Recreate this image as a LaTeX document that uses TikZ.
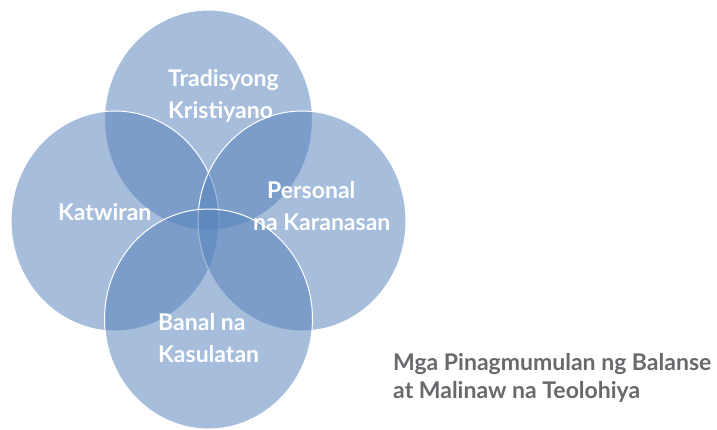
\documentclass[tikz,border=0pt]{standalone}
\usepackage{fontspec}
\setmainfont{Lato}
\usetikzlibrary{positioning}
\definecolor{discblue}{RGB}{87,130,187}
\definecolor{capgray}{RGB}{104,105,109}

\begin{document}
\begin{tikzpicture}[x=1pt, y=-1pt,
		disc/.style={fill=discblue, fill opacity=0.53, draw=white, draw opacity=1, line width=1pt},
		lbl/.style={anchor=base west, inner sep=0pt, align=left, text=white,
			font=\fontsize{23}{32}\selectfont\bfseries}]
		\useasboundingbox (0,0) rectangle (717,429);
		%% Circles
		\path [disc] (208.5,120) ellipse [x radius=104, y radius=110];
		\path [disc] (115,221) ellipse [x radius=104, y radius=110];
		\path [disc] (302,221) ellipse [x radius=104, y radius=110];
		\path [disc] (208.5,319) ellipse [x radius=104, y radius=110];
		%% Labels (base = last line)
		\node [lbl] at (168,118) (trad) {Tradisyong\\Kristiyano};
		\node [lbl] at (58,220) (katw) {Katwiran};
		\node [lbl] at (253,230) (pers) {\hspace*{14pt}Personal\\na Karanasan};
		\node [lbl] at (158,362) (banal) {Banal na\\Kasulatan};
		%% Caption
		\node [anchor=base west, inner sep=0pt, align=left, text=capgray,
			font=\fontsize{23}{28}\selectfont\bfseries] at (393,398) (title)
			{Mga Pinagmumulan ng Balanse\\at Malinaw na Teolohiya};
	\end{tikzpicture}
\end{document}
